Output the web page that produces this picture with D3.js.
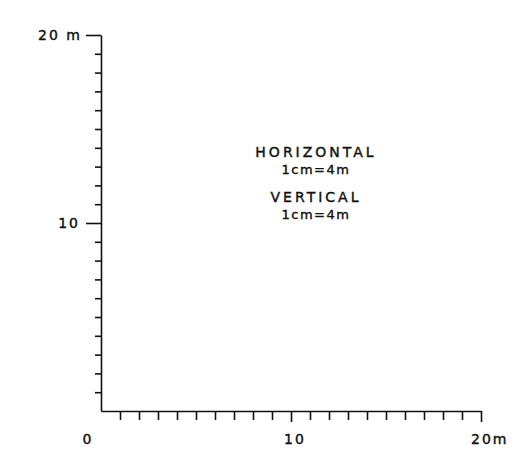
<!DOCTYPE html>
<html><head><meta charset="utf-8">
<script src="https://cdn.jsdelivr.net/npm/d3@7"></script>
<style>html,body{margin:0;padding:0;background:#fff;}</style>
</head><body>
<script>
const xDomain = [0, 20];
const yDomain = [0, 20];
const minorTicks = d3.range(1, 21);
const majorTicks = [10, 20];
const xTickLabels = [{v: 0, t: "0"}, {v: 10, t: "10"}, {v: 20, t: "20m"}];
const yTickLabels = [{v: 10, t: "10"}, {v: 20, t: "20 m"}];
const noteLines = ["HORIZONTAL", "1cm=4m", "VERTICAL", "1cm=4m"];

const W = 520, H = 463;
const svg = d3.select("body").append("svg").attr("width", W).attr("height", H);
const x = d3.scaleLinear().domain(xDomain).range([101, 481]);
const y = d3.scaleLinear().domain(yDomain).range([411, 35]);
const ink = "#111";
const font = "'DejaVu Sans', sans-serif";

// Y axis
const ya = svg.append("g").attr("transform", `translate(${x(0)},0)`)
  .call(d3.axisLeft(y).tickValues(minorTicks).tickSize(6).tickSizeOuter(0).tickFormat(""));
ya.selectAll("line").attr("x2", d => majorTicks.includes(d) ? -15 : -6);
// X axis
const xa = svg.append("g").attr("transform", `translate(0,${y(0)})`)
  .call(d3.axisBottom(x).tickValues(minorTicks).tickSize(9).tickSizeOuter(0).tickFormat(""));
xa.selectAll("line").attr("y2", d => majorTicks.includes(d) ? 11 : 9);
svg.selectAll(".domain").attr("stroke", ink).attr("stroke-width", 1.6);
svg.selectAll(".tick line").attr("stroke", ink).attr("stroke-width", 1.6);

const yLabelX = {10: 80, 20: 82};
svg.selectAll("text.yl").data(yTickLabels).join("text")
  .attr("x", d => yLabelX[d.v]).attr("y", d => y(d.v))
  .attr("dy", "0.35em").attr("text-anchor", "end")
  .attr("font-family", font).attr("font-size", 14).attr("letter-spacing", 2)
  .attr("fill", ink).attr("stroke", ink).attr("stroke-width", 0.4)
  .text(d => d.t);

const xLabelX = {0: 88, 10: 284, 20: 471};
svg.selectAll("text.xl").data(xTickLabels).join("text")
  .attr("x", d => xLabelX[d.v])
  .attr("y", 444)
  .attr("text-anchor", d => d.v === 0 ? "middle" : "start")
  .attr("font-family", font).attr("font-size", 14).attr("letter-spacing", 2)
  .attr("fill", ink).attr("stroke", ink).attr("stroke-width", 0.4)
  .text(d => d.t);

const noteY = [152, 169, 197, 214];
const noteSize = [14, 13, 14, 13];
svg.selectAll("text.note").data(noteLines).join("text")
  .attr("x", 316).attr("y", (d, i) => noteY[i]).attr("dy", "0.35em")
  .attr("text-anchor", "middle").attr("font-family", font)
  .attr("font-size", (d, i) => noteSize[i])
  .attr("letter-spacing", (d, i) => i % 2 === 0 ? 3 : 1.5)
  .attr("fill", ink).attr("stroke", ink).attr("stroke-width", 0.4)
  .text(d => d);
</script>
</body></html>
